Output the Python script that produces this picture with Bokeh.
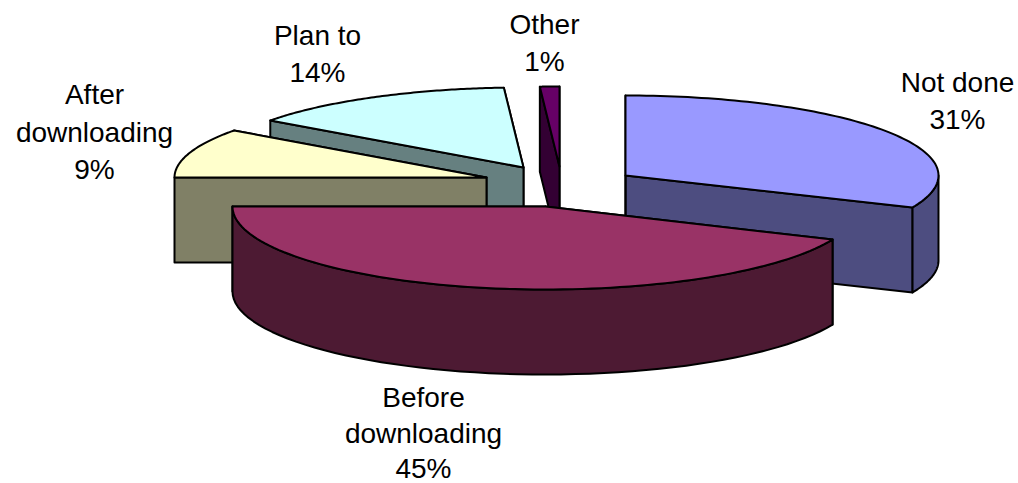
import numpy as np
from bokeh.plotting import figure
from bokeh.models import ColumnDataSource
from bokeh.core.properties import value
from bokeh.embed import file_html
from bokeh.resources import INLINE

categories = ["Not done", "Before downloading", "After downloading", "Plan to", "Other"]
percent = [31, 45, 9, 14, 1]
top_colors = ["#9999FF", "#993366", "#FFFFCC", "#CCFFFF", "#660066"]
wall_colors = ["#4D4D80", "#4D1A33", "#808066", "#668080", "#330033"]
centers_x = [625, 545, 486, 523, 559]
centers_y = [175, 206, 177, 167, 166]
radii_x = [313, 313, 312, 313, 313]
radii_y = [80, 83, 80, 80, 80]
DEPTH = 85
# the 3D view's foreshortening moves some pie angles a little
view_in = [0, 111.6, 273.6, 306, 360]
view_out = [0, 113.5, 270, 306, 360]
draw_order = [4, 3, 2, 0, 1]

label_lines = ["Not done", "31%", "Before", "downloading", "45%", "After", "downloading",
               "9%", "Plan to", "14%", "Other", "1%"]
label_x = [957, 957, 423, 423, 423, 94, 94, 94, 317, 317, 544, 544]
label_y = [82, 119, 397, 433, 468, 94, 132, 169, 35, 72, 24, 61]

cum = np.concatenate([[0], np.cumsum(percent)]) * 3.6
starts = np.interp(cum[:-1], view_in, view_out)
ends = np.interp(cum[1:], view_in, view_out)

p = figure(width=1018, height=483, x_range=(0, 1018), y_range=(483, 0),
           output_backend="svg", toolbar_location=None, min_border=0)
p.axis.visible = False
p.grid.visible = False
p.outline_line_color = None
p.background_fill_color = "white"


def pt(i, a):
    r = np.radians(a)
    return centers_x[i] + radii_x[i] * np.sin(r), centers_y[i] - radii_y[i] * np.cos(r)


xs, ys, fills = [], [], []
for i in draw_order:
    cx, cy = centers_x[i], centers_y[i]
    a0, a1 = starts[i], ends[i]
    for a in (a1, a0):  # radial walls, far one first
        x, y = pt(i, a)
        xs.append([x, cx, cx, x])
        ys.append([y, cy, cy + DEPTH, y + DEPTH])
        fills.append(wall_colors[i])
    lo, hi = max(a0, 90), min(a1, 270)  # outer wall: front half of the rim only
    if hi > lo:
        t = np.linspace(lo, hi, 60)
        x, y = pt(i, t)
        xs.append(list(x) + list(x[::-1]))
        ys.append(list(y) + list((y + DEPTH)[::-1]))
        fills.append(wall_colors[i])
    t = np.linspace(a0, a1, 90)
    x, y = pt(i, t)
    xs.append([cx] + list(x))
    ys.append([cy] + list(y))
    fills.append(top_colors[i])

p.patches(xs="xs", ys="ys", fill_color="fills", line_color="black", line_width=2,
          line_join="round", source=ColumnDataSource(dict(xs=xs, ys=ys, fills=fills)))

p.text(x="x", y="y", text="t", text_font=value("Liberation Sans"), text_font_size="28px",
       text_color="#000000", text_align="center", text_baseline="middle",
       source=ColumnDataSource(dict(x=label_x, y=label_y, t=label_lines)))

open("out.html", "w").write(file_html(p, INLINE))
